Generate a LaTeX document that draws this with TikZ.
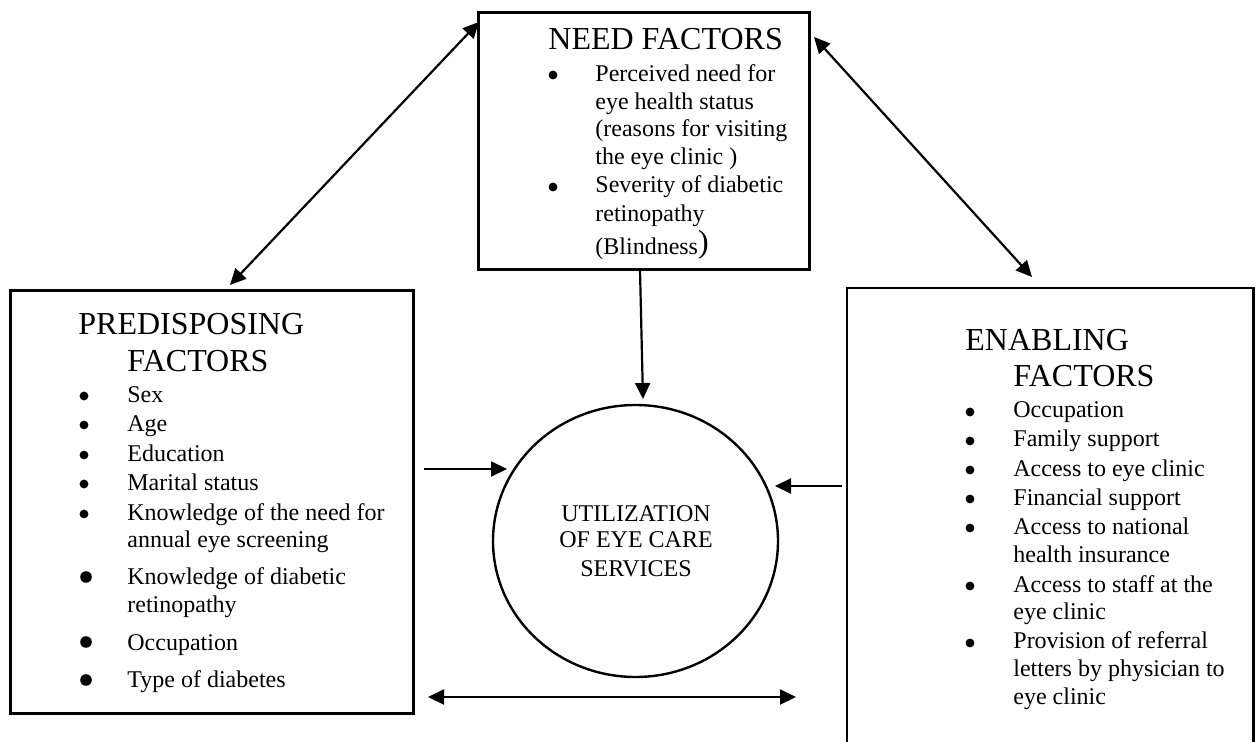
\documentclass[tikz,border=0pt]{standalone}
\usepackage{fontspec}
\setmainfont{Liberation Serif}
\usetikzlibrary{arrows.meta,shapes.geometric}
\begin{document}
\begin{tikzpicture}[x=0.5pt,y=-0.5pt,
  box/.style={draw,line width=1.4pt,rectangle,inner sep=0,anchor=north west},
  body/.style={anchor=base west,inner sep=0,font=\fontsize{12}{14}\selectfont},
  ctext/.style={anchor=base,inner sep=0,font=\fontsize{12}{14}\selectfont},
  ttl/.style={anchor=base west,inner sep=0,font=\fontsize{16}{18}\selectfont},
  bul/.style={circle,fill,inner sep=0,minimum size=4.4pt},
  bigbul/.style={circle,fill,inner sep=0,minimum size=5.8pt},
  tip/.style={Triangle[length=8pt,width=7.5pt]},
  conn/.style={line width=1.1pt,-{Triangle[length=8pt,width=7.5pt]}},
  dconn/.style={line width=1.1pt,{Triangle[length=8pt,width=7.5pt]}-{Triangle[length=8pt,width=7.5pt]}}]
\useasboundingbox (0,0) rectangle (1259,742);

% boxes
\node[box,minimum width=201.5pt,minimum height=211.5pt] (P) at (9,289) {};
\node[box,minimum width=165.5pt,minimum height=128.5pt] (N) at (477,11) {};
\node[rectangle,inner sep=0,anchor=north west,minimum width=203pt,minimum height=227pt] (E) at (847,288) {};
\draw[line width=1.4pt] (E.south west) -- (E.north west) -- (E.north east) -- (E.south east);
\node[ellipse,draw,line width=1.2pt,inner sep=0,minimum width=142.5pt,minimum height=136pt] (U) at (635.5,541) {};

% titles
\node[ttl] (pt1) at (78,335) {PREDISPOSING};
\node[ttl] (pt2) at (127,372) {FACTORS};
\node[ttl] (nt) at (548,50) {NEED FACTORS};
\node[ttl] (et1) at (965,351) {ENABLING};
\node[ttl] (et2) at (1013,387) {FACTORS};

% predisposing items
\foreach \y/\t [count=\i] in {403/{Sex},432/{Age},462/{Education},491/{Marital status},
  521/{Knowledge of the need for},548/{annual eye screening},585/{Knowledge of diabetic},
  613/{retinopathy},651/{Occupation},688/{Type of diabetes}}
  \node[body] (pi\i) at (127,\y) {\t};
\foreach \y [count=\i] in {396,425,455,484,514}
  \node[bul] (pb\i) at (84,\y) {};
\foreach \y [count=\i] in {577,642,680}
  \node[bigbul] (pB\i) at (86,\y) {};

% need items
\foreach \y/\t [count=\i] in {82/{Perceived need for},110/{eye health status},
  137/{(reasons for visiting},165/{the eye clinic )},193/{Severity of diabetic},
  222/{retinopathy}}
  \node[body] (ni\i) at (595,\y) {\t};
\node[body] (ni7) at (595,255) {(Blindness{\fontsize{16}{18}\selectfont\raisebox{1pt}{)}}};
\foreach \y [count=\i] in {75,187}
  \node[bul] (nb\i) at (553,\y) {};

% enabling items
\foreach \y/\t [count=\i] in {418/{Occupation},447/{Family support},477/{Access to eye clinic},
  506/{Financial support},535/{Access to national},563/{health insurance},
  593/{Access to staff at the},620/{eye clinic},649/{Provision of referral},
  677/{letters by physician to},705/{eye clinic}}
  \node[body] (ei\i) at (1013,\y) {\t};
\foreach \y [count=\i] in {412,441,470,499,528,586,643}
  \node[bul] (eb\i) at (970,\y) {};

% circle text
\node[ctext] (u1) at (636,522) {UTILIZATION};
\node[ctext] (u2) at (636,548) {OF EYE CARE};
\node[ctext] (u3) at (636,577) {SERVICES};

% connector end points
\coordinate (a1) at (230,285);
\coordinate (a2) at (479,22);
\coordinate (b1) at (814,37);
\coordinate (b2) at (1032,277);
\coordinate (c1) at (640,270);
\coordinate (c2) at (643,399);
\coordinate (d1) at (424,469);
\coordinate (d2) at (507,469);
\coordinate (e1) at (842,486);
\coordinate (e2) at (775,486);
\coordinate (f1) at (428,697);
\coordinate (f2) at (796,697);

\draw[dconn] (a1) -- (a2);
\draw[dconn] (b1) -- (b2);
\draw[conn] (c1) -- (c2);
\draw[conn] (d1) -- (d2);
\draw[conn] (e1) -- (e2);
\draw[dconn] (f1) -- (f2);
\end{tikzpicture}
\end{document}
